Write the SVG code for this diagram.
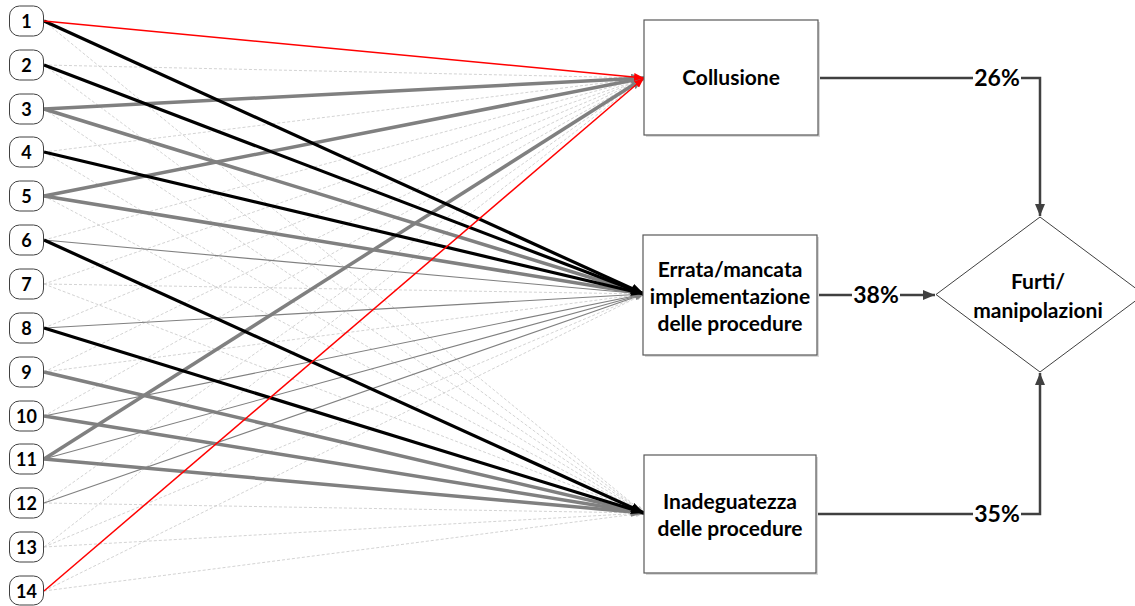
<svg xmlns="http://www.w3.org/2000/svg" width="1135" height="606" viewBox="0 0 1135 606">
  <style>
    .src rect { fill: #fff; stroke: #404040; stroke-width: 1; }
    .box { fill: #fff; stroke: #595959; stroke-width: 1.2; }
    .shadow { fill: #d9d9d9; }
    .num { font-family: Lato, "Liberation Sans", sans-serif; font-weight: bold; font-size: 18px; fill: #000; text-anchor: middle; }
    .lbl { font-family: Lato, "Liberation Sans", sans-serif; font-weight: bold; font-size: 21px; fill: #000; text-anchor: middle; }
    .pct { font-family: Lato, "Liberation Sans", sans-serif; font-weight: bold; font-size: 23px; fill: #000; text-anchor: middle; }
    .dash { stroke: #c8c8c8; stroke-width: 0.8; stroke-dasharray: 3 2; fill: none; marker-end: url(#aDash); }
    .thin { stroke: #808080; stroke-width: 1.1; fill: none; marker-end: url(#aThin); }
    .grey { stroke: #808080; stroke-width: 3.5; fill: none; marker-end: url(#aGrey); }
    .black { stroke: #000; stroke-width: 3.2; fill: none; marker-end: url(#aBlack); }
    .red { stroke: #ff0000; stroke-width: 1.5; fill: none; marker-end: url(#aRed); }
    .flow { stroke: #404040; stroke-width: 2.5; fill: none; }
    .flowA { stroke: #404040; stroke-width: 2.5; fill: none; marker-end: url(#aFlow); }
  </style>
  <defs>
    <marker id="aDash" markerUnits="userSpaceOnUse" markerWidth="8" markerHeight="6" refX="8" refY="3" orient="auto">
      <path d="M0,0 L8,3 L0,6 z" fill="#c8c8c8"/>
    </marker>
    <marker id="aThin" markerUnits="userSpaceOnUse" markerWidth="9" markerHeight="7" refX="9" refY="3.5" orient="auto">
      <path d="M0,0 L9,3.5 L0,7 z" fill="#808080"/>
    </marker>
    <marker id="aGrey" markerUnits="userSpaceOnUse" markerWidth="13" markerHeight="10" refX="13" refY="5" orient="auto">
      <path d="M0,0 L13,5 L0,10 z" fill="#808080"/>
    </marker>
    <marker id="aBlack" markerUnits="userSpaceOnUse" markerWidth="13" markerHeight="10" refX="13" refY="5" orient="auto">
      <path d="M0,0 L13,5 L0,10 z" fill="#000"/>
    </marker>
    <marker id="aRed" markerUnits="userSpaceOnUse" markerWidth="10" markerHeight="8" refX="10" refY="4" orient="auto">
      <path d="M0,0 L10,4 L0,8 z" fill="#ff0000"/>
    </marker>
    <marker id="aFlow" markerUnits="userSpaceOnUse" markerWidth="12" markerHeight="10" refX="12" refY="5" orient="auto">
      <path d="M0,0 L12,5 L0,10 z" fill="#404040"/>
    </marker>
  </defs>

  <!-- links from the numbered factors to the three causes -->
  <g id="connectors">
    <!-- weak links (dashed) -->
    <path class="dash" d="M44,21 L644,513"/>
    <path class="dash" d="M44,65 L644,78"/>
    <path class="dash" d="M44,65 L644,513"/>
    <path class="dash" d="M44,109 L644,513"/>
    <path class="dash" d="M44,152 L644,78"/>
    <path class="dash" d="M44,152 L644,513"/>
    <path class="dash" d="M44,196 L644,513"/>
    <path class="dash" d="M44,240 L644,78"/>
    <path class="dash" d="M44,284 L644,78"/>
    <path class="dash" d="M44,284 L644,294"/>
    <path class="dash" d="M44,284 L644,513"/>
    <path class="dash" d="M44,328 L644,78"/>
    <path class="dash" d="M44,372 L644,78"/>
    <path class="dash" d="M44,372 L644,294"/>
    <path class="dash" d="M44,416 L644,78"/>
    <path class="dash" d="M44,503 L644,78"/>
    <path class="dash" d="M44,503 L644,513"/>
    <path class="dash" d="M44,547 L644,78"/>
    <path class="dash" d="M44,547 L644,294"/>
    <path class="dash" d="M44,547 L644,513"/>
    <path class="dash" d="M44,591 L644,294"/>
    <path class="dash" d="M44,591 L644,513"/>
    <!-- medium links (thin grey) -->
    <path class="thin" d="M44,240 L644,294"/>
    <path class="thin" d="M44,328 L644,294"/>
    <path class="thin" d="M44,416 L644,294"/>
    <path class="thin" d="M44,459 L644,294"/>
    <path class="thin" d="M44,503 L644,294"/>
    <!-- strong links (thick grey) -->
    <path class="grey" d="M44,109 L644,78"/>
    <path class="grey" d="M44,109 L644,294"/>
    <path class="grey" d="M44,196 L644,78"/>
    <path class="grey" d="M44,196 L644,294"/>
    <path class="grey" d="M44,372 L644,513"/>
    <path class="grey" d="M44,416 L644,513"/>
    <path class="grey" d="M44,459 L644,78"/>
    <path class="grey" d="M44,459 L644,513"/>
    <!-- very strong links (black) -->
    <path class="black" d="M44,21 L644,294"/>
    <path class="black" d="M44,65 L644,294"/>
    <path class="black" d="M44,152 L644,294"/>
    <path class="black" d="M44,240 L644,513"/>
    <path class="black" d="M44,328 L644,513"/>
    <!-- critical links (red) -->
    <path class="red" d="M44,21 L644,78"/>
    <path class="red" d="M44,591 L644,78"/>

    <!-- causes to outcome -->
    <path class="flow" d="M818,78 L973,78"/>
    <path class="flowA" d="M1021,78 L1040,78 L1040,216"/>
    <path class="flow" d="M817,295 L852,295"/>
    <path class="flowA" d="M900,295 L935,295"/>
    <path class="flow" d="M816,514 L973,514"/>
    <path class="flowA" d="M1021,514 L1040,514 L1040,373"/>
    <text class="pct" x="997" y="86">26%</text>
    <text class="pct" x="876" y="303">38%</text>
    <text class="pct" x="997" y="522">35%</text>
  </g>

  <!-- numbered factors -->
  <g id="n1" class="src"><rect x="9.5" y="6" width="34" height="30" rx="10"/><text class="num" x="26.5" y="27.5">1</text></g>
  <g id="n2" class="src"><rect x="9.5" y="50" width="34" height="30" rx="10"/><text class="num" x="26.5" y="71.5">2</text></g>
  <g id="n3" class="src"><rect x="9.5" y="94" width="34" height="30" rx="10"/><text class="num" x="26.5" y="115.5">3</text></g>
  <g id="n4" class="src"><rect x="9.5" y="137" width="34" height="30" rx="10"/><text class="num" x="26.5" y="158.5">4</text></g>
  <g id="n5" class="src"><rect x="9.5" y="181" width="34" height="30" rx="10"/><text class="num" x="26.5" y="202.5">5</text></g>
  <g id="n6" class="src"><rect x="9.5" y="225" width="34" height="30" rx="10"/><text class="num" x="26.5" y="246.5">6</text></g>
  <g id="n7" class="src"><rect x="9.5" y="269" width="34" height="30" rx="10"/><text class="num" x="26.5" y="290.5">7</text></g>
  <g id="n8" class="src"><rect x="9.5" y="313" width="34" height="30" rx="10"/><text class="num" x="26.5" y="334.5">8</text></g>
  <g id="n9" class="src"><rect x="9.5" y="357" width="34" height="30" rx="10"/><text class="num" x="26.5" y="378.5">9</text></g>
  <g id="n10" class="src"><rect x="9.5" y="401" width="34" height="30" rx="10"/><text class="num" x="26.5" y="422.5">10</text></g>
  <g id="n11" class="src"><rect x="9.5" y="444" width="34" height="30" rx="10"/><text class="num" x="26.5" y="465.5">11</text></g>
  <g id="n12" class="src"><rect x="9.5" y="488" width="34" height="30" rx="10"/><text class="num" x="26.5" y="509.5">12</text></g>
  <g id="n13" class="src"><rect x="9.5" y="532" width="34" height="30" rx="10"/><text class="num" x="26.5" y="553.5">13</text></g>
  <g id="n14" class="src"><rect x="9.5" y="576" width="34" height="29" rx="10"/><text class="num" x="26.5" y="597.5">14</text></g>

  <!-- causes -->
  <g id="collusione">
    <rect class="shadow" x="646" y="22" width="174" height="115"/>
    <rect class="box" x="644" y="20" width="174" height="115"/>
    <text class="lbl" x="731" y="85">Collusione</text>
  </g>
  <g id="errata">
    <rect class="shadow" x="645" y="237" width="174" height="120"/>
    <rect class="box" x="643" y="235" width="174" height="120"/>
    <text class="lbl" x="730" y="277">Errata/mancata</text>
    <text class="lbl" x="730" y="304">implementazione</text>
    <text class="lbl" x="730" y="331">delle procedure</text>
  </g>
  <g id="inadeguatezza">
    <rect class="shadow" x="646" y="457" width="172" height="118"/>
    <rect class="box" x="644" y="455" width="172" height="118"/>
    <text class="lbl" x="730" y="509">Inadeguatezza</text>
    <text class="lbl" x="730" y="536">delle procedure</text>
  </g>

  <!-- outcome -->
  <g id="furti">
    <path d="M1040,217 L1144,294.5 L1040,372 L936,294.5 z" fill="#fff" stroke="#404040" stroke-width="1"/>
    <text class="lbl" x="1038" y="289">Furti/</text>
    <text class="lbl" x="1038" y="318">manipolazioni</text>
  </g>
</svg>
